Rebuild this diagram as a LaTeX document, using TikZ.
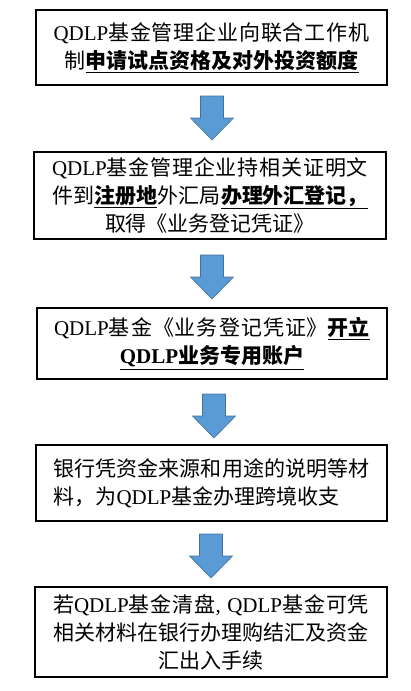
\documentclass[tikz,border=0pt]{standalone}
\usepackage{fontspec}
\newfontfamily\cjk{Noto Sans CJK SC}
\newfontfamily\lat{Liberation Serif}
\XeTeXlinebreaklocale "zh"
\XeTeXlinebreakskip=0pt plus 3pt
\newcommand\ctrlast{\leftskip=0pt plus 1fil\rightskip=0pt plus -1fil\parfillskip=0pt plus 2fil\parindent=0pt\relax}
\newcommand\lftlast{\leftskip=0pt\rightskip=0pt\parfillskip=0pt plus 1fil\parindent=0pt\relax}
\newcommand\ulb[1]{\underline{\bfseries #1}}
\definecolor{arrowfill}{HTML}{5B9BD5}
\definecolor{arrowline}{HTML}{41719C}
\tikzset{
  stepbox/.style={draw=black, line width=1.6pt, inner sep=0pt, text width=316pt,
    align=justify, font=\cjk\fontsize{21}{28}\selectfont},
  blockarrow/.style={fill=arrowfill, draw=arrowline, line width=0.6pt, line join=miter}
}
\newcommand\downarrowblock[1]{%
  \draw[blockarrow] (#1) ++(-11.5,0) -- ++(23,0) -- ++(0,-22) -- ++(10,0)
    -- ++(-21.5,-22) -- ++(-21.5,22) -- ++(10,0) -- cycle;}
\begin{document}
\begin{tikzpicture}[x=1pt,y=1pt]
\useasboundingbox (0,0) rectangle (411,-691);
\node[stepbox, minimum width=351pt, minimum height=75pt] (b1) at (211.5,-47.5)
  {\ctrlast{\lat QDLP}基金管理企业向联合工作机\linebreak 制\ulb{申请试点资格及对外投资额度}\par};
\node[stepbox, minimum width=352pt, minimum height=87pt] (b2) at (210,-195.5)
  {\ctrlast{\lat QDLP}基金管理企业持相关证明文\linebreak 件到\ulb{注册地}外汇局\ulb{办理外汇登记，}\linebreak 取得《业务登记凭证》\par};
\node[stepbox, minimum width=350pt, minimum height=71pt] (b3) at (212,-343.5)
  {\ctrlast{\lat QDLP}基金《业务登记凭证》\ulb{开立}\linebreak \ulb{{\lat QDLP}业务专用账户}\par};
\node[stepbox, minimum width=351pt, minimum height=76pt] (b4) at (211.5,-483)
  {\lftlast 银行凭资金来源和用途的说明等材\linebreak 料，为{\lat QDLP}基金办理跨境收支\par};
\node[stepbox, minimum width=352pt, minimum height=90pt] (b5) at (211,-632)
  {\ctrlast 若{\lat QDLP}基金清盘{\lat , QDLP}基金可凭\linebreak 相关材料在银行办理购结汇及资金\linebreak 汇出入手续\par};
\coordinate (a1) at (212,-96);
\coordinate (a2) at (212,-255);
\coordinate (a3) at (214,-394);
\coordinate (a4) at (211,-534);
\downarrowblock{a1}
\downarrowblock{a2}
\downarrowblock{a3}
\downarrowblock{a4}
\end{tikzpicture}
\end{document}
